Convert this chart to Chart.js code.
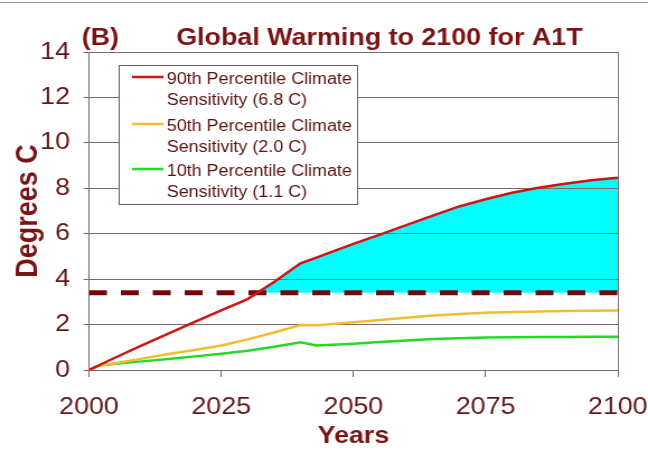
<!DOCTYPE html>
<html>
<head>
<meta charset="utf-8">
<script src="https://cdn.jsdelivr.net/npm/chart.js@4.4.1/dist/chart.umd.min.js"></script>
<style>
  html, body { margin: 0; padding: 0; background: #ffffff; }
  .wrap { position: relative; width: 648px; height: 457px; overflow: hidden; }
  .topline { position: absolute; left: 0; top: 2px; width: 648px; height: 1px; background: #9a9a9a; }
  #chart { position: absolute; left: 0; top: 0; }
</style>
</head>
<body>
<div class="wrap">
  <div class="topline"></div>
  <!-- drawn narrow and stretched sideways, like the original picture -->
  <canvas id="chart" width="579" height="457" style="width:648px;height:457px"></canvas>
</div>
<script>
// data
const years = [2000, 2002, 2005, 2010, 2015, 2020, 2025, 2030, 2035, 2040, 2043, 2045, 2050, 2055, 2060, 2065, 2070, 2075, 2080, 2085, 2090, 2095, 2100];
const p90 = [0, 0.22, 0.55, 1.08, 1.6, 2.12, 2.62, 3.12, 3.87, 4.7, 4.95, 5.12, 5.55, 5.96, 6.38, 6.8, 7.2, 7.52, 7.8, 8.02, 8.2, 8.35, 8.46];
const p50 = [0, 0.2, 0.3, 0.5, 0.7, 0.88, 1.08, 1.35, 1.65, 1.98, 1.97, 2.0, 2.1, 2.2, 2.3, 2.4, 2.47, 2.52, 2.55, 2.58, 2.6, 2.61, 2.62];
const p10 = [0, 0.2, 0.27, 0.38, 0.48, 0.6, 0.72, 0.85, 1.02, 1.22, 1.08, 1.1, 1.16, 1.23, 1.3, 1.36, 1.4, 1.43, 1.44, 1.45, 1.45, 1.46, 1.46];
const limitYears = [2000, 2100];
const limitVals = [3.4, 3.4];

const legendLines = [
  ['90th Percentile Climate', 'Sensitivity (6.8 C)'],
  ['50th Percentile Climate', 'Sensitivity (2.0 C)'],
  ['10th Percentile Climate', 'Sensitivity (1.1 C)']
];
const xTicks = [2000, 2025, 2050, 2075, 2100];

const darkRed = '#7a1414';
const tickRed = '#631616';
const gridCol = '#7c6a6a';
const FONT = 'Arial, "Liberation Sans", sans-serif';

const pts = (xs, ys) => xs.map((x, i) => ({x: x, y: ys[i]}));

// title + legend box
const extras = {
  id: 'extras',
  afterDraw(chart) {
    const ctx = chart.ctx;
    ctx.save();
    ctx.fillStyle = darkRed;
    ctx.font = 'bold 24px ' + FONT;
    ctx.textBaseline = 'middle';
    ctx.textAlign = 'left';
    ctx.fillText('(B)', 73, 38);
    ctx.textAlign = 'center';
    ctx.fillText('Global Warming to 2100 for A1T', 339, 38);

    // legend
    const bx = 106, by = 65, bw = 213, bh = 139;
    ctx.fillStyle = '#ffffff';
    ctx.fillRect(bx, by, bw, bh);
    ctx.strokeStyle = '#6e5a5a';
    ctx.lineWidth = 1;
    ctx.strokeRect(bx + 0.5, by + 0.5, bw, bh);
    ctx.font = '16px ' + FONT;
    ctx.textAlign = 'left';
    const rowY = [80, 127, 172];
    chart.data.datasets.slice(0, 3).forEach((ds, i) => {
      const y = rowY[i];
      ctx.strokeStyle = ds.borderColor;
      ctx.lineWidth = 2.5;
      ctx.beginPath();
      ctx.moveTo(118, y - 3);
      ctx.lineTo(146, y - 3);
      ctx.stroke();
      ctx.fillStyle = '#5a1010';
      ctx.fillText(legendLines[i][0], 149, y);
      ctx.fillText(legendLines[i][1], 149, y + 21);
    });
    ctx.restore();
  }
};

const config = {
  type: 'line',
  data: {
    datasets: [
      {
        label: '90th Percentile Climate Sensitivity (6.8 C)',
        data: pts(years, p90),
        borderColor: '#cc1414',
        borderWidth: 2.5,
        fill: {target: 3, above: '#00ffff', below: 'rgba(0,0,0,0)'}
      },
      {
        label: '50th Percentile Climate Sensitivity (2.0 C)',
        data: pts(years, p50),
        borderColor: '#f2bd2c',
        borderWidth: 2.5,
        fill: false
      },
      {
        label: '10th Percentile Climate Sensitivity (1.1 C)',
        data: pts(years, p10),
        borderColor: '#26d926',
        borderWidth: 2.5,
        fill: false
      },
      {
        label: 'threshold',
        data: pts(limitYears, limitVals),
        borderColor: '#760606',
        borderWidth: 5,
        borderDash: [16, 12.5],
        fill: false
      }
    ]
  },
  options: {
    responsive: false,
    animation: false,
    devicePixelRatio: 1,
    layout: {padding: {top: 52, left: 0, right: 27, bottom: 6}},
    elements: {
      line: {tension: 0},
      point: {radius: 0}
    },
    plugins: {
      legend: {display: false},
      tooltip: {enabled: false},
      filler: {drawTime: 'beforeDraw'}
    },
    scales: {
      x: {
        type: 'linear',
        min: 2000,
        max: 2100,
        afterFit: (s) => { s.height = 81; s.paddingLeft = 0; s.paddingRight = 0; },
        afterBuildTicks: (s) => { s.ticks = xTicks.map(v => ({value: v})); },
        ticks: {
          color: tickRed,
          font: {family: FONT, size: 24},
          padding: 16,
          maxRotation: 0,
          callback: (v) => String(v)
        },
        grid: {
          drawOnChartArea: true,
          color: (c) => (c.tick && c.tick.value === 2100 ? gridCol : 'rgba(0,0,0,0)'),
          tickColor: gridCol,
          tickLength: 7,
          lineWidth: 1
        },
        border: {display: true, color: gridCol, width: 1},
        title: {
          display: true,
          text: 'Years',
          color: darkRed,
          font: {family: FONT, size: 24, weight: 'bold'},
          padding: {top: 0, bottom: 0}
        }
      },
      y: {
        min: 0,
        max: 14,
        afterFit: (s) => { s.width = 79.5; },
        ticks: {
          stepSize: 2,
          color: tickRed,
          font: {family: FONT, size: 24},
          padding: 12
        },
        grid: {
          color: gridCol,
          tickColor: gridCol,
          tickLength: 5,
          lineWidth: 1
        },
        border: {display: true, color: gridCol, width: 1},
        title: {
          display: true,
          text: 'Degrees C',
          color: darkRed,
          font: {family: FONT, size: 27, weight: 'bold'},
          padding: {top: 9, bottom: 0}
        }
      }
    }
  },
  plugins: [extras]
};

new Chart(document.getElementById('chart'), config);
</script>
</body>
</html>
